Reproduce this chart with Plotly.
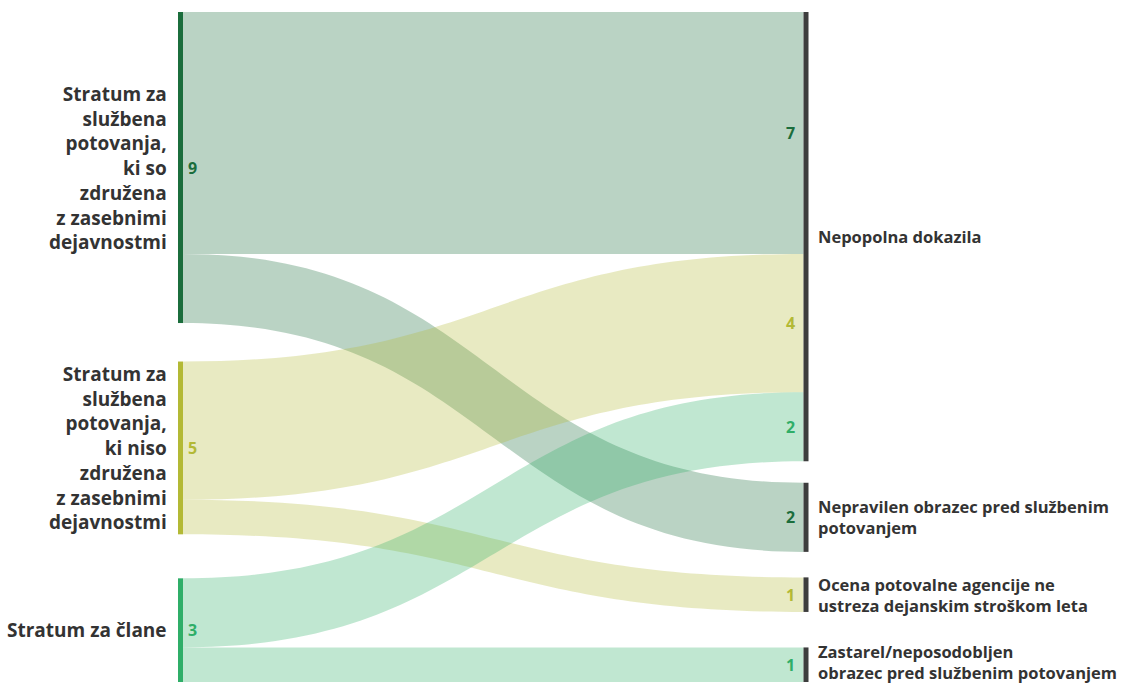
import plotly.graph_objects as go

# ---------------- data ----------------
source_names = [
    "Stratum za službena potovanja, ki so združena z zasebnimi dejavnostmi",
    "Stratum za službena potovanja, ki niso združena z zasebnimi dejavnostmi",
    "Stratum za člane",
]
source_text = [
    "Stratum za<br>službena<br>potovanja,<br>ki so<br>združena<br>z zasebnimi<br>dejavnostmi",
    "Stratum za<br>službena<br>potovanja,<br>ki niso<br>združena<br>z zasebnimi<br>dejavnostmi",
    "Stratum za člane",
]
target_names = [
    "Nepopolna dokazila",
    "Nepravilen obrazec pred službenim potovanjem",
    "Ocena potovalne agencije ne ustreza dejanskim stroškom leta",
    "Zastarel/neposodobljen obrazec pred službenim potovanjem",
]
target_text = [
    "Nepopolna dokazila",
    "Nepravilen obrazec pred službenim<br>potovanjem",
    "Ocena potovalne agencije ne<br>ustreza dejanskim stroškom leta",
    "Zastarel/neposodobljen<br>obrazec pred službenim potovanjem",
]
link_source = [0, 0, 1, 1, 2, 2]
link_target = [0, 1, 0, 2, 0, 3]
link_value = [7, 2, 4, 1, 2, 1]

# ---------------- style / layout ----------------
W, HP = 1121, 684
MT, MB = 12, 2
H = HP - MT - MB
PAD = 27.5
THICK = 5
source_colors = ["#1b6d3c", "#b3b935", "#2fae68"]
target_color = "#3d3d3d"
text_color = "#333333"
FONT = "Open Sans"
LEFT_SIZE, RIGHT_SIZE, VAL_SIZE = 19, 16.5, 16
LEFT_X, RIGHT_X = 180.5, 806.0
left_gaps = [38.5, 44.0]
right_gaps = [21.5, 25.5, 35.5]


def rgba(hexc, a):
    h = hexc.lstrip("#")
    return f"rgba({int(h[0:2],16)},{int(h[2:4],16)},{int(h[4:6],16)},{a})"


ns, nt = len(source_names), len(target_names)
src_tot = [sum(v for s, v in zip(link_source, link_value) if s == i) for i in range(ns)]
tgt_tot = [sum(v for t, v in zip(link_target, link_value) if t == j) for j in range(nt)]
# replicate d3-sankey scale
ky = min((H - (ns - 1) * PAD) / sum(src_tot), (H - (nt - 1) * PAD) / sum(tgt_tot))


def stack(totals, gaps):
    tops, y = [], 0.0
    for i, v in enumerate(totals):
        tops.append(y)
        y += v * ky + (gaps[i] if i < len(gaps) else 0)
    return tops


src_top = stack(src_tot, left_gaps)
tgt_top = stack(tgt_tot, right_gaps)
src_c = [t + v * ky / 2 for t, v in zip(src_top, src_tot)]
tgt_c = [t + v * ky / 2 for t, v in zip(tgt_top, tgt_tot)]

node_x = [LEFT_X / W] * ns + [RIGHT_X / W] * nt
node_y = [c / H for c in src_c] + [c / H for c in tgt_c]

fig = go.Figure(go.Sankey(
    arrangement="fixed",
    node=dict(
        label=[""] * (ns + nt),
        customdata=source_names + target_names,
        hovertemplate="%{customdata}: %{value}<extra></extra>",
        x=node_x, y=node_y,
        pad=PAD, thickness=THICK,
        color=source_colors + [target_color] * nt,
        line=dict(width=0),
    ),
    link=dict(
        source=link_source,
        target=[ns + t for t in link_target],
        value=link_value,
        color=[rgba(source_colors[s], 0.3) for s in link_source],
        line=dict(width=0),
    ),
))

ann = []


def py(yd):
    return 1 - yd / H


for i in range(ns):
    ann.append(dict(x=169 / W, y=py(src_c[i]), text=source_text[i], xanchor="right",
                    yanchor="middle", align="right", showarrow=False,
                    font=dict(family=FONT, size=LEFT_SIZE, color=text_color, weight=700)))
    ann.append(dict(x=186 / W, y=py(src_c[i]), text=str(src_tot[i]), xanchor="left",
                    yanchor="middle", showarrow=False,
                    font=dict(family=FONT, size=VAL_SIZE, color=source_colors[i], weight=700)))

for j in range(nt):
    nlines = target_text[j].count("<br>") + 1
    half = nlines * 1.3 * RIGHT_SIZE / 2
    yc = min(tgt_c[j], H + MB - half - 1)  # keep the label inside the page
    ann.append(dict(x=816 / W, y=py(yc), text=target_text[j], xanchor="left",
                    yanchor="middle", align="left", showarrow=False,
                    font=dict(family=FONT, size=RIGHT_SIZE, color=text_color, weight=700)))
    incoming = sorted([k for k in range(len(link_value)) if link_target[k] == j],
                      key=lambda k: src_c[link_source[k]])
    off = tgt_top[j]
    for k in incoming:
        h = link_value[k] * ky
        ann.append(dict(x=797 / W, y=py(off + h / 2), text=str(link_value[k]), xanchor="right",
                        yanchor="middle", showarrow=False,
                        font=dict(family=FONT, size=VAL_SIZE, color=source_colors[link_source[k]], weight=700)))
        off += h

fig.update_layout(
    width=W, height=HP,
    margin=dict(l=0, r=0, t=MT, b=MB),
    paper_bgcolor="white", plot_bgcolor="white",
    annotations=ann,
    font=dict(family=FONT),
)
fig.write_html("out.html")
